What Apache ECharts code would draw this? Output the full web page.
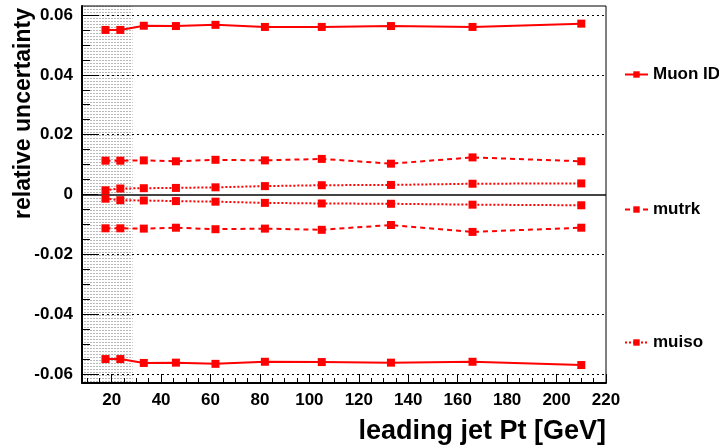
<!DOCTYPE html>
<html>
<head>
<meta charset="utf-8">
<script src="https://cdn.jsdelivr.net/npm/echarts@6/dist/echarts.min.js"></script>
<style>
html,body{margin:0;padding:0;background:#fff;}
#c{width:719px;height:448px;}
</style>
</head>
<body>
<div id="c"></div>
<script>
// ---- data ----
var ptBins = [17.5, 23.5, 33, 46, 62, 82, 105, 133, 166, 210];
var muonIdUp   = [0.0550, 0.0550, 0.0564, 0.0563, 0.0567, 0.0560, 0.0560, 0.0563, 0.0560, 0.0571];
var muonIdDown = [-0.0550, -0.0550, -0.0563, -0.0562, -0.0566, -0.0559, -0.0560, -0.0562, -0.0559, -0.0570];
var mutrkUp    = [0.0113, 0.0113, 0.0114, 0.0111, 0.0116, 0.0114, 0.0119, 0.0103, 0.0124, 0.0111];
var mutrkDown  = [-0.0113, -0.0113, -0.0114, -0.0111, -0.0116, -0.0114, -0.0118, -0.0102, -0.0125, -0.0111];
var muisoUp    = [0.0014, 0.0020, 0.0021, 0.0022, 0.0024, 0.0028, 0.0031, 0.0032, 0.0036, 0.0037];
var muisoDown  = [-0.0014, -0.0019, -0.0020, -0.0022, -0.0024, -0.0028, -0.0030, -0.0031, -0.0034, -0.0036];
var xTicks = [20, 40, 60, 80, 100, 120, 140, 160, 180, 200, 220];
var xMinorTicks = [10, 15, 25, 30, 35, 45, 50, 55, 65, 70, 75, 85, 90, 95, 105, 110, 115, 125, 130, 135, 145, 150, 155, 165, 170, 175, 185, 190, 195, 205, 210, 215];
var yTicks = [-0.06, -0.04, -0.02, 0, 0.02, 0.04, 0.06];
var yMinorTicks = [-0.055, -0.05, -0.045, -0.035, -0.03, -0.025, -0.015, -0.01, -0.005, 0.005, 0.01, 0.015, 0.025, 0.03, 0.035, 0.045, 0.05, 0.055];
var shadedRange = [8, 28.5];
var legendNames = ['Muon ID', 'mutrk', 'muiso'];

function pairs(ys){ return ptBins.map(function(x,i){ return [x, ys[i]]; }); }

// dotted hatch pattern
var pc = document.createElement('canvas');
pc.width = 3; pc.height = 3;
var pctx = pc.getContext('2d');
pctx.fillStyle = '#ffffff'; pctx.fillRect(0,0,3,3);
pctx.fillStyle = '#b8b8b8'; pctx.fillRect(0,0,2,1);

var chart = echarts.init(document.getElementById('c'));
var red = '#ff0000';
var FONT = 'Liberation Sans';
function ser(name, ys, type, w, extra){
  var s = {
    name: name, type: 'line', data: pairs(ys),
    symbol: 'rect', symbolSize: 8, showSymbol: true,
    itemStyle: {color: red},
    lineStyle: {color: red, width: w, type: type},
    animation: false, z: 5
  };
  if (extra) for (var k in extra) s[k] = extra[k];
  return s;
}
var gridLine = {color: '#000', type: [2,3], width: 1};

var option = {
  animation: false,
  grid: {left: 82, top: 6, right: 113, bottom: 65, show: false},
  xAxis: [{
    type: 'value', min: 8, max: 220, z: 10,
    axisLine: {show: true, onZero: false, lineStyle: {color: '#000', width: 2}},
    axisTick: {show: true, inside: true, length: 9, customValues: xTicks, lineStyle: {color: '#000', width: 1}},
    splitLine: {show: false},
    axisLabel: {
      color: '#000', fontFamily: FONT, fontWeight: 'bold', fontSize: 17, margin: 9,
      customValues: xTicks
    },
    name: 'leading jet Pt [GeV]', nameLocation: 'end', nameGap: 0,
    nameTextStyle: {color: '#000', fontFamily: FONT, fontWeight: 'bold', fontSize: 27,
      align: 'right', verticalAlign: 'top', padding: [35, 0, 0, 0]}
  }, {
    type: 'value', min: 8, max: 220, position: 'bottom', z: 11, show: true,
    axisLine: {show: true, onZero: false, lineStyle: {opacity: 0}},
    axisTick: {show: true, inside: true, length: 5, customValues: xMinorTicks, lineStyle: {color: '#000', width: 1}},
    axisLabel: {show: false}, splitLine: {show: false}
  }],
  yAxis: [{
    type: 'value', min: -0.063, max: 0.063, z: 10,
    axisLine: {show: true, onZero: false, lineStyle: {color: '#000', width: 2}},
    axisTick: {show: true, inside: true, length: 16, customValues: yTicks, lineStyle: {color: '#000'}},
    splitLine: {show: false},
    axisLabel: {
      color: '#000', fontFamily: FONT, fontWeight: 'bold', fontSize: 17, margin: 9,
      customValues: yTicks,
      formatter: function(v){ return Math.abs(v) < 1e-9 ? '0' : v.toFixed(2); }
    },
    name: 'relative uncertainty', nameLocation: 'end', nameRotate: 90, nameGap: -2,
    nameTextStyle: {color: '#000', fontFamily: FONT, fontWeight: 'bold', fontSize: 23,
      align: 'right', verticalAlign: 'bottom', padding: [0, 0, 47, 0]}
  }, {
    type: 'value', min: -0.063, max: 0.063, position: 'left', z: 11, show: true,
    axisLine: {show: true, onZero: false, lineStyle: {opacity: 0}},
    axisTick: {show: true, inside: true, length: 8, customValues: yMinorTicks, lineStyle: {color: '#000', width: 1}},
    axisLabel: {show: false}, splitLine: {show: false}
  }],
  legend: legendNames.map(function(n, i){
    return {
      data: [n], left: 624, top: [66, 201, 334][i], orient: 'vertical', padding: 0,
      itemWidth: 23, itemHeight: 8, itemGap: 0, selectedMode: false,
      textStyle: {color: '#000', fontFamily: FONT, fontWeight: 'bold', fontSize: 17}
    };
  }),
  series: [
    ser('Muon ID', muonIdUp, 'solid', 2, {
      markArea: {silent: true, itemStyle: {color: {image: pc, repeat: 'repeat'}},
        data: [[{xAxis: shadedRange[0], yAxis: -0.063}, {xAxis: shadedRange[1], yAxis: 0.063}]]},
      markLine: {silent: true, symbol: 'none', label: {show: false},
        data: [
          {yAxis: 0.06, lineStyle: gridLine},
          {yAxis: 0.04, lineStyle: gridLine},
          {yAxis: 0.02, lineStyle: gridLine},
          {yAxis: -0.02, lineStyle: gridLine},
          {yAxis: -0.04, lineStyle: gridLine},
          {yAxis: -0.06, lineStyle: gridLine},
          {yAxis: 0, lineStyle: {color: '#444', type: 'solid', width: 2}}
        ]}
    }),
    ser('Muon ID', muonIdDown, 'solid', 2),
    ser('mutrk', mutrkUp, [5,4], 2),
    ser('mutrk', mutrkDown, [5,4], 2),
    ser('muiso', muisoUp, [2,2], 2),
    ser('muiso', muisoDown, [2,2], 2)
  ],
  graphic: [
    {type: 'rect', shape: {x: 82, y: 6, width: 524, height: 377}, style: {fill: 'none', stroke: '#000', lineWidth: 1}, silent: true, z: 10}
  ]
};
chart.setOption(option);
</script>
</body>
</html>
